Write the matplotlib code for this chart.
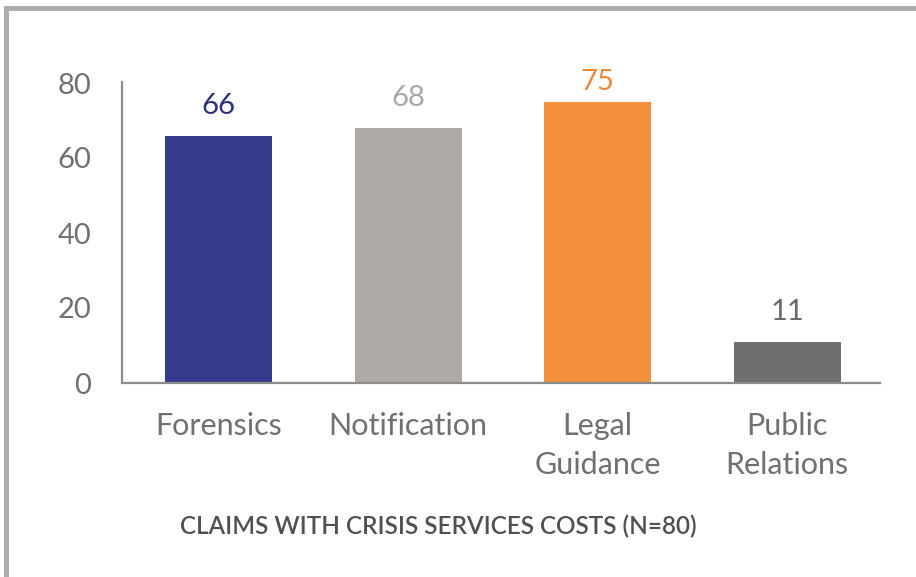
import matplotlib
matplotlib.use("Agg")
import matplotlib.pyplot as plt
from matplotlib.patches import Rectangle

categories = ["Forensics", "Notification", "Legal\nGuidance", "Public\nRelations"]
values = [66, 68, 75, 11]
bar_colors = ["#363b8c", "#aeaaa6", "#f3913b", "#6f6f6f"]
label_colors = ["#2f3080", "#a9a6a3", "#f0883a", "#6a6a6a"]
y_ticks = [0, 20, 40, 60, 80]
title = "CLAIMS WITH CRISIS SERVICES COSTS (N=80)"

plt.rcParams["font.family"] = ["Lato", "DejaVu Sans"]

W, H = 916, 577
fig = plt.figure(figsize=(W / 100, H / 100), dpi=100)
fig.patch.set_facecolor("white")

# frame strips along the top and left edges
fig.patches.append(Rectangle((4 / W, 0), 5 / W, 1 - 6 / H, transform=fig.transFigure,
                             facecolor="#adadab", edgecolor="none"))
fig.patches.append(Rectangle((4 / W, 1 - 11 / H), 1 - 4 / W, 5 / H, transform=fig.transFigure,
                             facecolor="#adadab", edgecolor="none"))

left, right, bottom, top = 122, 880, 383, 83
ax = fig.add_axes([left / W, 1 - bottom / H, (right - left) / W, (bottom - top) / H])

x = list(range(len(categories)))
ax.bar(x, values, width=0.565, color=bar_colors)
# value labels sit above each bar, but never past the top of the plot area
for xi, v, c in zip(x, values, label_colors):
    ax.text(xi, min(v + 5.8, 78.0), str(v), ha="center", va="baseline",
            fontsize=21, color=c)

ax.set_xlim(-0.51, 3.49)
ax.set_ylim(0, 80)
ax.set_yticks(y_ticks)
ax.set_xticks(x)
ax.set_xticklabels(categories, fontsize=22, color="#707070", linespacing=1.45)
ax.tick_params(axis="x", length=0, pad=21)
ax.tick_params(axis="y", length=0, pad=22, labelsize=21, labelcolor="#707070")
ax.spines["left"].set_bounds(0, 80.3)

for s in ["top", "right"]:
    ax.spines[s].set_visible(False)
for s in ["left", "bottom"]:
    ax.spines[s].set_color("#8c8c8c")
    ax.spines[s].set_linewidth(1.6)

fig.text(438 / W, 1 - 526 / H, title, ha="center", va="center", fontsize=17.5,
         color="#505050", fontweight="semibold")

fig.savefig("out.png", dpi=100, facecolor="white")
